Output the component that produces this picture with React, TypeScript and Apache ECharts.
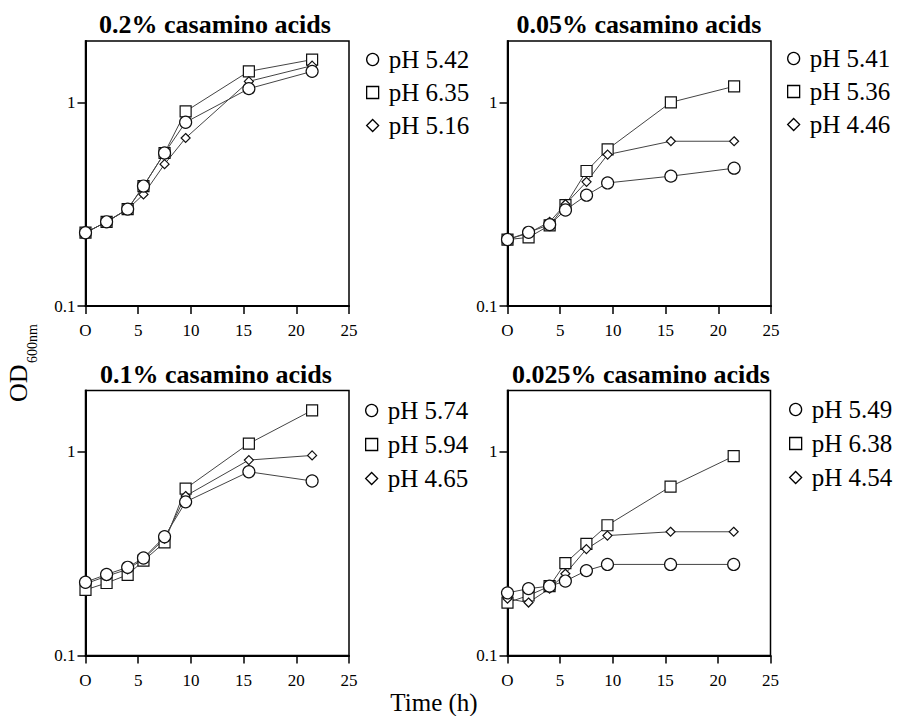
import React, { useEffect, useRef } from "react";
import * as echarts from "echarts";

const TIMES = [0, 2, 4, 5.5, 7.5, 9.5, 15.5, 21.5];
const X_TICKS = [0, 5, 10, 15, 20, 25];
const Y_TICKS = [0.1, 1];

const PANEL_TITLES = [
  "0.2% casamino acids",
  "0.05% casamino acids",
  "0.1% casamino acids",
  "0.025% casamino acids",
];

// legend labels per panel: [circle, square, diamond]
const LABELS = [
  ["pH 5.42", "pH 6.35", "pH 5.16"],
  ["pH 5.41", "pH 5.36", "pH 4.46"],
  ["pH 5.74", "pH 5.94", "pH 4.65"],
  ["pH 5.49", "pH 6.38", "pH 4.54"],
];

// panel 1: 0.2%
const P1_CIRCLE = [0.229, 0.259, 0.299, 0.388, 0.564, 0.798, 1.167, 1.419];
const P1_SQUARE = [0.229, 0.259, 0.299, 0.388, 0.564, 0.903, 1.419, 1.62];
const P1_DIAMOND = [0.229, 0.259, 0.299, 0.353, 0.497, 0.668, 1.267, 1.513];
// panel 2: 0.05%
const P2_CIRCLE = [0.212, 0.23, 0.251, 0.296, 0.35, 0.402, 0.434, 0.475];
const P2_SQUARE = [0.212, 0.217, 0.249, 0.313, 0.46, 0.588, 1.0, 1.198];
const P2_DIAMOND = [0.212, 0.228, 0.259, 0.316, 0.407, 0.554, 0.644, 0.644];
// panel 3: 0.1%
const P3_CIRCLE = [0.229, 0.25, 0.271, 0.301, 0.383, 0.568, 0.798, 0.719];
const P3_SQUARE = [0.21, 0.227, 0.249, 0.292, 0.359, 0.66, 1.098, 1.598];
const P3_DIAMOND = [0.225, 0.245, 0.265, 0.298, 0.375, 0.607, 0.911, 0.96];
// panel 4: 0.025%
const P4_CIRCLE = [0.203, 0.213, 0.219, 0.232, 0.261, 0.28, 0.28, 0.28];
const P4_SQUARE = [0.182, 0.197, 0.219, 0.284, 0.353, 0.436, 0.675, 0.952];
const P4_DIAMOND = [0.19, 0.182, 0.213, 0.252, 0.333, 0.388, 0.405, 0.405];

const PANEL_DATA = [
  [P1_CIRCLE, P1_SQUARE, P1_DIAMOND],
  [P2_CIRCLE, P2_SQUARE, P2_DIAMOND],
  [P3_CIRCLE, P3_SQUARE, P3_DIAMOND],
  [P4_CIRCLE, P4_SQUARE, P4_DIAMOND],
];

const FONT = "Liberation Serif";

const GRIDS = [
  { left: 85.5, top: 41, width: 263.5, height: 265 },
  { left: 507.5, top: 41, width: 263.5, height: 265 },
  { left: 85.5, top: 390.5, width: 263.5, height: 265 },
  { left: 507.5, top: 390.5, width: 263, height: 265 },
];
const TITLE_POS = [
  { x: 215, y: 11 },
  { x: 639, y: 11 },
  { x: 216, y: 361 },
  { x: 641, y: 361 },
];
const LEGEND_POS = [
  { x: 366, y: 47, gap: 8 },
  { x: 787, y: 46, gap: 8 },
  { x: 365, y: 398, gap: 9 },
  { x: 789, y: 397, gap: 9 },
];

const SYMBOLS = ["circle", "rect", "diamond"];
const SYMBOL_SIZES = [12, 11, 9];
const DRAW_ORDER = [1, 2, 0]; // square, diamond, circle on top

export default function App() {
  const ref = useRef<HTMLDivElement>(null);
  useEffect(() => {
    document.body.style.margin = "0";
    if (!ref.current) return;
    const chart = echarts.init(ref.current, undefined, { renderer: "svg" });

    const grid: any[] = [];
    const xAxis: any[] = [];
    const yAxis: any[] = [];
    const series: any[] = [];
    const title: any[] = [];
    const legend: any[] = [];

    for (let p = 0; p < 4; p++) {
      grid.push({
        ...GRIDS[p],
        show: true,
        borderColor: "#000",
        borderWidth: 1.5,
        backgroundColor: "transparent",
      });
      xAxis.push({
        type: "value",
        gridIndex: p,
        min: X_TICKS[0],
        max: X_TICKS[X_TICKS.length - 1],
        interval: 5,
        axisLine: { show: true, onZero: false, lineStyle: { color: "#000", width: 2 } },
        axisTick: { show: true, length: 8, lineStyle: { color: "#000", width: 1.5 } },
        axisLabel: {
          margin: 16,
          color: "#000",
          fontFamily: FONT,
          fontSize: 17,
          formatter: (v: number) => (v === 0 ? "O" : String(v)),
        },
        splitLine: { show: false },
      });
      yAxis.push({
        type: "log",
        logBase: 10,
        gridIndex: p,
        min: 0.1,
        max: 2,
        axisLine: { show: true, onZero: false, lineStyle: { color: "#000", width: 2 } },
        axisTick: { show: true, length: 8, customValues: Y_TICKS, lineStyle: { color: "#000", width: 1.5 } },
        axisLabel: {
          margin: 10,
          color: "#000",
          fontFamily: FONT,
          fontSize: 17,
          customValues: Y_TICKS,
          formatter: (v: number) => (Math.abs(v - 1) < 1e-9 ? "1" : "0.1"),
        },
        splitLine: { show: false },
        minorTick: { show: false },
      });
      title.push({
        text: PANEL_TITLES[p],
        left: TITLE_POS[p].x,
        top: TITLE_POS[p].y,
        textAlign: "center",
        padding: 0,
        textStyle: { fontFamily: FONT, fontSize: 26, fontWeight: "bold", color: "#000" },
      });
      legend.push({
        orient: "vertical",
        left: LEGEND_POS[p].x,
        top: LEGEND_POS[p].y,
        padding: 0,
        itemGap: LEGEND_POS[p].gap,
        itemWidth: 12,
        itemHeight: 12,
        selectedMode: false,
        data: LABELS[p].map((name, i) => ({ name, icon: SYMBOLS[i] })),
        itemStyle: { color: "#fff", borderColor: "#000", borderWidth: 1.3 },
        lineStyle: { opacity: 0 },
        textStyle: {
          fontFamily: FONT,
          fontSize: 25,
          color: "#000",
          lineHeight: 25,
          padding: [0, 0, 0, 5],
        },
      });
      for (const i of DRAW_ORDER) {
        series.push({
          type: "line",
          name: LABELS[p][i],
          xAxisIndex: p,
          yAxisIndex: p,
          data: TIMES.map((t, k) => [t, PANEL_DATA[p][i][k]]),
          symbol: SYMBOLS[i],
          symbolSize: SYMBOL_SIZES[i],
          showAllSymbol: true,
          lineStyle: { color: "#444", width: 1 },
          itemStyle: { color: "#fff", borderColor: "#111", borderWidth: 1.2 },
          emphasis: { disabled: true },
        });
      }
    }

    chart.setOption({
      animation: false,
      backgroundColor: "#fff",
      grid,
      xAxis,
      yAxis,
      series,
      title,
      legend,
      graphic: [
        {
          type: "text",
          x: 18,
          y: 402,
          rotation: Math.PI / 2,
          style: {
            text: "OD",
            fontFamily: FONT,
            fontSize: 26,
            fill: "#000",
            textAlign: "left",
            textVerticalAlign: "middle",
          },
        },
        {
          type: "text",
          x: 32,
          y: 363,
          rotation: Math.PI / 2,
          style: {
            text: "600nm",
            fontFamily: FONT,
            fontSize: 14,
            fill: "#000",
            textAlign: "left",
            textVerticalAlign: "middle",
          },
        },
        {
          type: "text",
          x: 434,
          y: 702,
          style: {
            text: "Time (h)",
            fontFamily: FONT,
            fontSize: 25,
            fill: "#000",
            textAlign: "center",
            textVerticalAlign: "middle",
          },
        },
      ],
    });
    return () => chart.dispose();
  }, []);
  return <div ref={ref} style={{ width: 899, height: 716 }} />;
}
